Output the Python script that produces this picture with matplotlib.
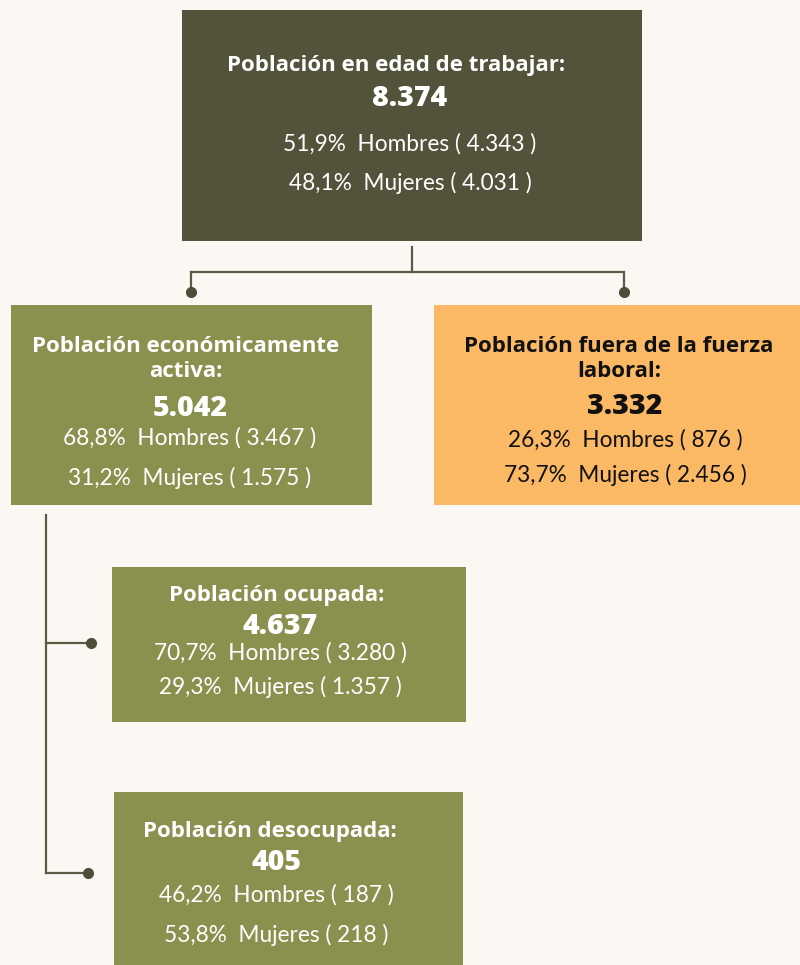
import matplotlib
matplotlib.use("Agg")
import matplotlib.pyplot as plt
from matplotlib.patches import Rectangle

# Data
titles = ["Población en edad de trabajar:",
          "Población económicamente\nactiva:",
          "Población fuera de la fuerza\nlaboral:",
          "Población ocupada:",
          "Población desocupada:"]
totals = ["8.374", "5.042", "3.332", "4.637", "405"]
pct_hombres = ["51,9%", "68,8%", "26,3%", "70,7%", "46,2%"]
pct_mujeres = ["48,1%", "31,2%", "73,7%", "29,3%", "53,8%"]
n_hombres = ["4.343", "3.467", "876", "3.280", "187"]
n_mujeres = ["4.031", "1.575", "2.456", "1.357", "218"]

# Layout (pixel coordinates, y going down)
boxes = [(182, 10, 460, 231), (11, 305, 361, 200), (434, 305, 366, 200),
         (112, 567, 354, 155), (114, 792, 349, 173)]
box_colors = ["#52533a", "#8a914f", "#fbb966", "#8a914f", "#8a914f"]
text_colors = ["white", "white", "#111111", "white", "white"]
# y of title, total, hombres line, mujeres line; x centres
title_y = [66, 359, 359, 596, 832]
total_y = [98, 409, 407, 627, 862]
line1_y = [144, 438, 440, 653, 895]
line2_y = [183, 478, 475, 687, 935]
title_x = [396, 186, 619, 277, 270]
body_x = [410, 190, 625, 280, 276]

bg = "#fbf8f3"
line_col = "#5b5a45"
dot_col = "#4e4e38"

fig = plt.figure(figsize=(8, 9.65), dpi=100, facecolor=bg)
ax = fig.add_axes([0, 0, 1, 1])
ax.set_xlim(0, 800)
ax.set_ylim(965, 0)
ax.axis("off")
ax.set_facecolor(bg)

for i, (x, y, w, h) in enumerate(boxes):
    ax.add_patch(Rectangle((x, y), w, h, facecolor=box_colors[i], edgecolor="none"))
    c = text_colors[i]
    ax.text(title_x[i], title_y[i], titles[i], ha="center", va="center", color=c,
            fontsize=16, fontweight="bold", family="Open Sans", linespacing=1.3)
    ax.text(body_x[i], total_y[i], totals[i], ha="center", va="center", color=c,
            fontsize=20.5, fontweight="heavy", family="Open Sans")
    ax.text(body_x[i], line1_y[i], f"{pct_hombres[i]}  Hombres ( {n_hombres[i]} )",
            ha="center", va="center", color=c, fontsize=16.3, family="Lato")
    ax.text(body_x[i], line2_y[i], f"{pct_mujeres[i]}  Mujeres ( {n_mujeres[i]} )",
            ha="center", va="center", color=c, fontsize=16.3, family="Lato")

# Connectors from the top box
lw = 1.6
ax.plot([412, 412], [247, 272], color=line_col, lw=lw)
ax.plot([191, 624], [272, 272], color=line_col, lw=lw)
ax.plot([191, 191], [272, 292], color=line_col, lw=lw)
ax.plot([624, 624], [272, 292], color=line_col, lw=lw)
ax.plot([191, 624], [292, 292], "o", color=dot_col, ms=7)

# Connectors from the active population box
ax.plot([46, 46], [515, 873], color=line_col, lw=lw)
ax.plot([46, 91], [643, 643], color=line_col, lw=lw)
ax.plot([46, 88], [873, 873], color=line_col, lw=lw)
ax.plot([91, 88], [643, 873], "o", color=dot_col, ms=7)

fig.savefig("out.png", dpi=100, facecolor=bg)
